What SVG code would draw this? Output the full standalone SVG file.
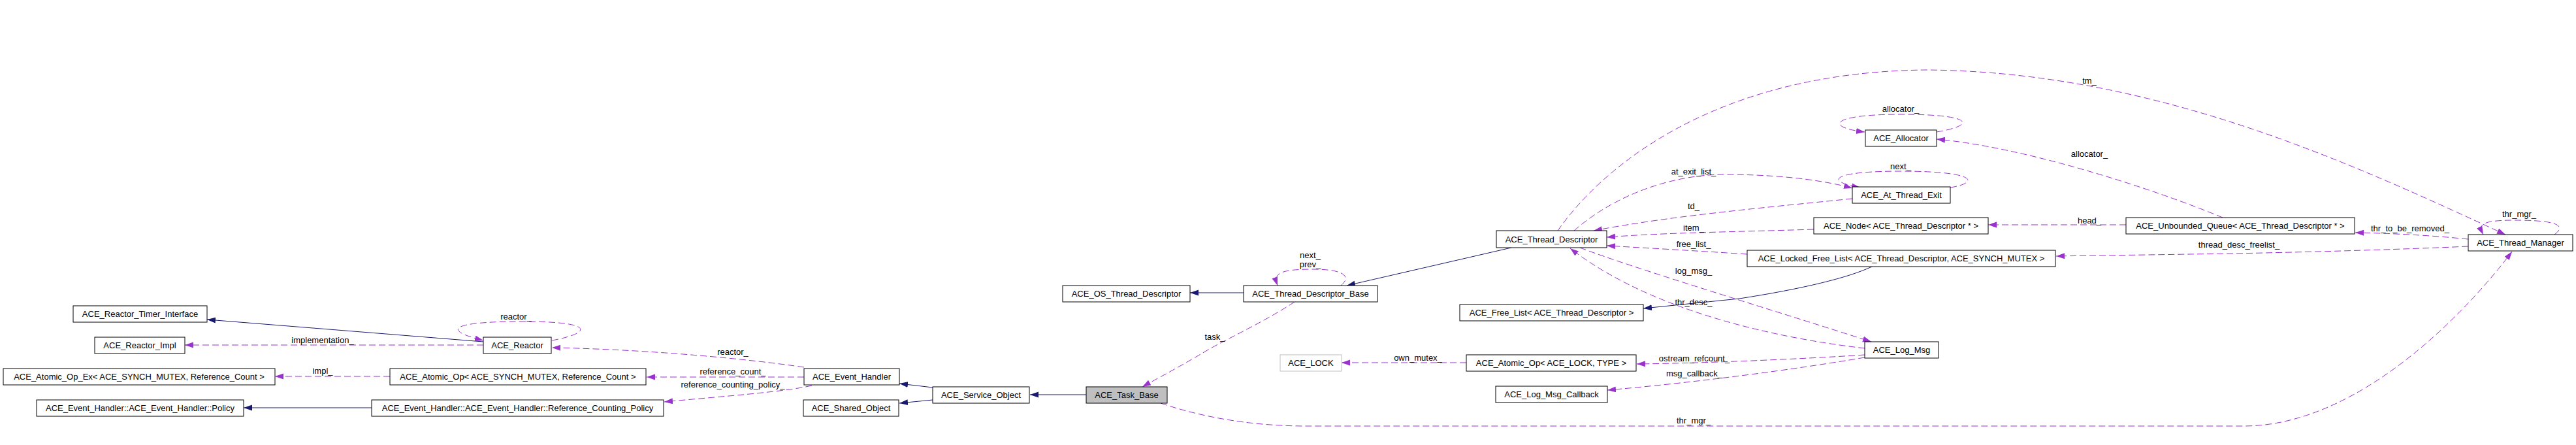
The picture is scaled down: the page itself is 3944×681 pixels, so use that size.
<svg xmlns="http://www.w3.org/2000/svg" width="3944" height="681" viewBox="0 0 3944 681">
<style>
.n rect{fill:#fff;stroke:#000;stroke-width:1}
.n text,.l{font-family:"Liberation Sans",Arial,sans-serif;font-size:13px;fill:#000}
.n text{text-anchor:middle}
.l{text-anchor:middle}
.h{fill:none;stroke:#191970;stroke-width:1;marker-end:url(#an)}
.u{fill:none;stroke:#9a32cd;stroke-width:1;stroke-dasharray:10,5;marker-end:url(#ap)}
</style>
<defs>
<marker id="an" markerUnits="userSpaceOnUse" markerWidth="14" markerHeight="10" refX="13" refY="4.5" orient="auto"><path d="M0,0L13,4.5L0,9z" fill="#191970"/></marker>
<marker id="ap" markerUnits="userSpaceOnUse" markerWidth="14" markerHeight="10" refX="13" refY="4.5" orient="auto"><path d="M0,0L13,4.5L0,9z" fill="#9a32cd"/></marker>
</defs>
<rect width="3944" height="681" fill="#fff"/>
<g id="edges">
<path class="h" d="M740,523L317,489"/>
<path class="h" d="M569,624L373,624"/>
<path class="h" d="M1428,593L1377,587"/>
<path class="h" d="M1428,612L1377,617"/>
<path class="h" d="M1663,604L1577,604"/>
<path class="h" d="M1904,448L1822,448"/>
<path class="h" d="M2314,379L2062,437"/>
<path class="h" d="M2866,408C2830,425 2760,442 2663,457L2516,472"/>
<path class="u" d="M740,528L283,528"/>
<path class="u" d="M597,576L421,576"/>
<path class="u" d="M845,521C905,510 915,492 800,492C690,492 675,505 740,521"/>
<path class="u" d="M1231,562C1150,550 1000,535 845,532"/>
<path class="u" d="M1231,577L990,577"/>
<path class="u" d="M1243,590C1200,600 1100,607 1017,615"/>
<path class="u" d="M1982,462C1940,490 1880,518 1850,535C1800,565 1770,580 1749,592"/>
<path class="u" d="M1777,617C1860,645 1940,652 2000,652L3435,652C3620,652 3790,460 3846,385"/>
<path class="u" d="M2053,437C2068,425 2062,412 2010,412C1955,412 1950,420 1956,437"/>
<path class="u" d="M2410,353C2470,300 2560,265 2650,267C2740,268 2800,278 2836,288"/>
<path class="u" d="M2986,287C3030,280 3030,262 2910,262C2800,262 2795,278 2848,287"/>
<path class="u" d="M2836,304C2700,318 2560,330 2440,353"/>
<path class="u" d="M2777,351C2650,355 2550,356 2460,363"/>
<path class="u" d="M2675,389C2600,384 2530,380 2460,376"/>
<path class="u" d="M2419,379C2500,410 2700,470 2865,523"/>
<path class="u" d="M2855,533C2700,515 2520,470 2404,380"/>
<path class="u" d="M2385,353C2450,260 2620,110 2950,107C3300,110 3600,250 3836,359"/>
<path class="u" d="M2965,202C3025,192 3025,175 2910,175C2800,175 2795,195 2855,202"/>
<path class="u" d="M3403,333C3300,290 3100,225 2965,213"/>
<path class="u" d="M3255,344L3044,344"/>
<path class="u" d="M3779,366C3720,360 3660,357 3606,356"/>
<path class="u" d="M3779,377C3650,383 3450,388 3350,389C3300,390 3200,391 3148,392"/>
<path class="u" d="M3911,359C3930,345 3915,337 3850,337C3795,337 3795,345 3802,359"/>
<path class="u" d="M2855,543C2750,550 2600,556 2506,557"/>
<path class="u" d="M2855,547C2750,565 2600,585 2461,597"/>
<path class="u" d="M2245,555L2054,555"/>
<text class="l" x="494" y="525">implementation_</text>
<text class="l" x="494" y="572">impl_</text>
<text class="l" x="790" y="489">reactor_</text>
<text class="l" x="1122" y="543">reactor_</text>
<text class="l" x="1122" y="573">reference_count_</text>
<text class="l" x="1122" y="593">reference_counting_policy_</text>
<text class="l" x="1860" y="520">task_</text>
<text class="l" x="2593" y="648">thr_mgr_</text>
<text class="l" x="2006" y="395">next_</text>
<text class="l" x="2006" y="409">prev_</text>
<text class="l" x="2593" y="267">at_exit_list_</text>
<text class="l" x="2910" y="259">next_</text>
<text class="l" x="2593" y="320">td_</text>
<text class="l" x="2593" y="353">item_</text>
<text class="l" x="2593" y="378">free_list_</text>
<text class="l" x="2593" y="419">log_msg_</text>
<text class="l" x="2593" y="467">thr_desc_</text>
<text class="l" x="3199" y="128">tm_</text>
<text class="l" x="2910" y="171">allocator_</text>
<text class="l" x="3199" y="240">allocator_</text>
<text class="l" x="3199" y="342">head_</text>
<text class="l" x="3690" y="354">thr_to_be_removed_</text>
<text class="l" x="3428" y="379">thread_desc_freelist_</text>
<text class="l" x="3857" y="332">thr_mgr_</text>
<text class="l" x="2594" y="553">ostream_refcount_</text>
<text class="l" x="2594" y="576">msg_callback_</text>
<text class="l" x="2171" y="552">own_mutex_</text>
</g>
<g id="n1" class="n"><rect x="112" y="468" width="205" height="25"/><text x="214.5" y="485">ACE_Reactor_Timer_Interface</text></g>
<g id="n2" class="n"><rect x="145" y="516" width="138" height="25"/><text x="214" y="533">ACE_Reactor_Impl</text></g>
<g id="n3" class="n"><rect x="5" y="564" width="416" height="25"/><text x="213" y="581">ACE_Atomic_Op_Ex&lt; ACE_SYNCH_MUTEX, Reference_Count &gt;</text></g>
<g id="n4" class="n"><rect x="56" y="612" width="317" height="25"/><text x="214.5" y="629">ACE_Event_Handler::ACE_Event_Handler::Policy</text></g>
<g id="n5" class="n"><rect x="740" y="516" width="104" height="25"/><text x="792" y="533">ACE_Reactor</text></g>
<g id="n6" class="n"><rect x="597" y="564" width="392" height="25"/><text x="793" y="581">ACE_Atomic_Op&lt; ACE_SYNCH_MUTEX, Reference_Count &gt;</text></g>
<g id="n7" class="n"><rect x="569" y="612" width="447" height="25"/><text x="792.5" y="629">ACE_Event_Handler::ACE_Event_Handler::Reference_Counting_Policy</text></g>
<g id="n8" class="n"><rect x="1231" y="564" width="146" height="25"/><text x="1304" y="581">ACE_Event_Handler</text></g>
<g id="n9" class="n"><rect x="1230" y="612" width="146" height="25"/><text x="1303" y="629">ACE_Shared_Object</text></g>
<g id="n10" class="n"><rect x="1428" y="592" width="148" height="25"/><text x="1502" y="609">ACE_Service_Object</text></g>
<g id="n11" class="n"><rect x="1663" y="592" width="124" height="25" style="fill:#bfbfbf"/><text x="1725" y="609">ACE_Task_Base</text></g>
<g id="n12" class="n"><rect x="1627" y="437" width="195" height="25"/><text x="1724.5" y="454">ACE_OS_Thread_Descriptor</text></g>
<g id="n13" class="n"><rect x="1904" y="437" width="205" height="25"/><text x="2006.5" y="454">ACE_Thread_Descriptor_Base</text></g>
<g id="n14" class="n"><rect x="1960" y="543" width="94" height="25" style="stroke:#bfbfbf"/><text x="2007" y="560">ACE_LOCK</text></g>
<g id="n15" class="n"><rect x="2291" y="353" width="169" height="26"/><text x="2375.5" y="370.5">ACE_Thread_Descriptor</text></g>
<g id="n16" class="n"><rect x="2235" y="466" width="281" height="25"/><text x="2375.5" y="483">ACE_Free_List&lt; ACE_Thread_Descriptor &gt;</text></g>
<g id="n17" class="n"><rect x="2245" y="543" width="260" height="25"/><text x="2375" y="560">ACE_Atomic_Op&lt; ACE_LOCK, TYPE &gt;</text></g>
<g id="n18" class="n"><rect x="2290" y="591" width="171" height="25"/><text x="2375.5" y="608">ACE_Log_Msg_Callback</text></g>
<g id="n19" class="n"><rect x="2856" y="199" width="109" height="25"/><text x="2910.5" y="216">ACE_Allocator</text></g>
<g id="n20" class="n"><rect x="2836" y="286" width="150" height="25"/><text x="2911" y="303">ACE_At_Thread_Exit</text></g>
<g id="n21" class="n"><rect x="2777" y="333" width="267" height="25"/><text x="2910.5" y="350">ACE_Node&lt; ACE_Thread_Descriptor * &gt;</text></g>
<g id="n22" class="n"><rect x="2675" y="383" width="472" height="25"/><text x="2911" y="400">ACE_Locked_Free_List&lt; ACE_Thread_Descriptor, ACE_SYNCH_MUTEX &gt;</text></g>
<g id="n23" class="n"><rect x="2855" y="523" width="113" height="25"/><text x="2911.5" y="540">ACE_Log_Msg</text></g>
<g id="n24" class="n"><rect x="3255" y="333" width="350" height="25"/><text x="3430" y="350">ACE_Unbounded_Queue&lt; ACE_Thread_Descriptor * &gt;</text></g>
<g id="n25" class="n"><rect x="3779" y="359" width="160" height="25"/><text x="3859" y="376">ACE_Thread_Manager</text></g>
</svg>
